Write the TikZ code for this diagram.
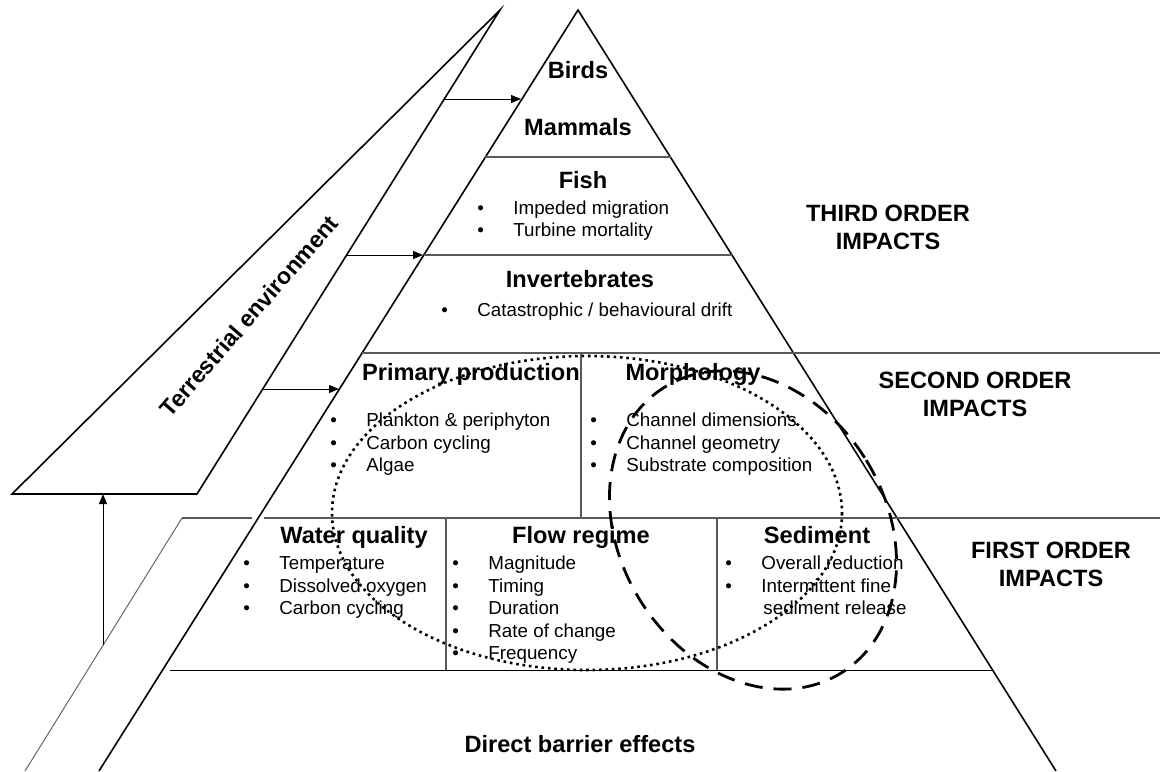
\documentclass[tikz,border=0pt]{standalone}
\usepackage{fontspec}
\setmainfont{Liberation Sans}
\usetikzlibrary{arrows.meta,calc}

\newcommand{\itembul}{\makebox[18pt][l]{\textbullet}}
\newcommand{\itemgap}{\makebox[18pt][l]{}}

\tikzset{
    edge/.style={line width=0.8pt},
    tier/.style={line width=0.6pt, draw=black!65},
    strip/.style={line width=0.5pt, draw=black!60},
    link/.style={->, line width=0.5pt},
    head/.style={font=\fontsize{11.8}{14}\selectfont\bfseries, inner sep=0pt, text height=8.5pt, text depth=0pt},
    order/.style={font=\fontsize{11.8}{14}\selectfont\bfseries, inner sep=0pt, align=center},
    item/.style={font=\fontsize{9.4}{11.3}\selectfont, anchor=west, inner sep=0pt, text height=6.7pt, text depth=0pt},
    dotring/.style={line width=1.3pt, dash pattern=on 1.3pt off 1.9pt},
    dashring/.style={line width=1.4pt, dash pattern=on 9pt off 5.5pt},
}

\begin{document}
\begin{tikzpicture}[x=0.5pt,y=-0.5pt,>={Triangle[length=5pt,width=4pt]}]
    \useasboundingbox (0,0) rectangle (1160,771);%像素坐标, y 向下

    % 金字塔
    \coordinate (apex) at (578,10);
    \coordinate (pl) at (99,771);
    \coordinate (pr) at (1056,771);
    \draw[edge] (pl) -- (apex) -- (pr);

    % 陆地环境楔形
    \coordinate (tt) at (500,10);
    \coordinate (tl) at (12,494);
    \coordinate (tr) at (197,494);
    \draw[edge] (tt) -- (tl) -- (tr) -- cycle;
    \draw[strip] (182,518) -- (25,771);

    % 分层线
    \draw[tier] (485,157) -- (671,157);
    \draw[tier] (424,255) -- (732,255);
    \draw[tier] (362,353) -- (1160,353);
    \draw[tier] (182,518) -- (252,518);
    \draw[tier] (264,518) -- (1160,518);
    \draw[tier] (581,353) -- (581,518);
    \draw[tier] (446,518) -- (446,670);
    \draw[tier] (717,518) -- (717,670);
    \draw[line width=0.5pt] (170,670) -- (993,670);

    % 箭头
    \coordinate (a1) at (444,99);  \coordinate (b1) at (521,99);
    \coordinate (a2) at (347,255); \coordinate (b2) at (423,255);
    \coordinate (a3) at (263,389); \coordinate (b3) at (339,389);
    \coordinate (a4) at (103,645); \coordinate (b4) at (103,494);
    \foreach \i in {1,...,4}
    {
        \draw[link] (a\i) -- (b\i);
    }

    % 第三级
    \node[head] (birds) at (578,70) {Birds};
    \node[head] (mammals) at (578,127) {Mammals};
    \node[head] (fish) at (583,180) {Fish};
    \foreach \t/\y [count=\i] in {Impeded migration/208, Turbine mortality/230}
        \node[item] (fish\i) at (477,\y) {\itembul\t};
    \node[head] (invert) at (580,279) {Invertebrates};
    \node[item] (drift) at (441,310) {\itembul Catastrophic / behavioural drift};

    % 第二级
    \node[head] (primary) at (471,372) {Primary production};
    \node[head] (morph) at (693,372) {Morphology};
    \foreach \t/\y [count=\i] in {Plankton \& periphyton/420, Carbon cycling/443, Algae/465}
        \node[item] (prim\i) at (330,\y) {\itembul\t};
    \foreach \t/\y [count=\i] in {Channel dimensions/420, Channel geometry/443, Substrate composition/465}
        \node[item] (morph\i) at (590,\y) {\itembul\t};

    % 第一级
    \node[head] (water) at (354,535) {Water quality};
    \node[head] (flow) at (581,535) {Flow regime};
    \node[head] (sed) at (817,535) {Sediment};
    \foreach \t/\y [count=\i] in {Temperature/563, Dissolved oxygen/586, Carbon cycling/608}
        \node[item] (water\i) at (243,\y) {\itembul\t};
    \foreach \t/\y [count=\i] in {Magnitude/563, Timing/586, Duration/608, Rate of change/631, Frequency/653}
        \node[item] (flow\i) at (452,\y) {\itembul\t};
    \node[item] (sed1) at (725,563) {\itembul Overall reduction};
    \node[item] (sed2) at (725,586) {\itembul Intermittent fine};
    \node[item] (sed3) at (727,608) {\itemgap sediment release};

    \node[head] (barrier) at (580,744) {Direct barrier effects};

    % 右侧标注
    \node[order] (third) at (888,227) {THIRD ORDER\\IMPACTS};
    \node[order] (second) at (975,394) {SECOND ORDER\\IMPACTS};
    \node[order] (first) at (1051,564) {FIRST ORDER\\IMPACTS};

    \node[head, font=\fontsize{11.6}{13}\selectfont\bfseries, rotate=49] (terr) at (249,316) {Terrestrial environment};

    % 椭圆
    \draw[dotring] (587,513) ellipse [x radius=255, y radius=157];
    \draw[dashring, rotate around={31.7:(753,530)}] (753,530) ellipse [x radius=133, y radius=168];
\end{tikzpicture}
\end{document}
